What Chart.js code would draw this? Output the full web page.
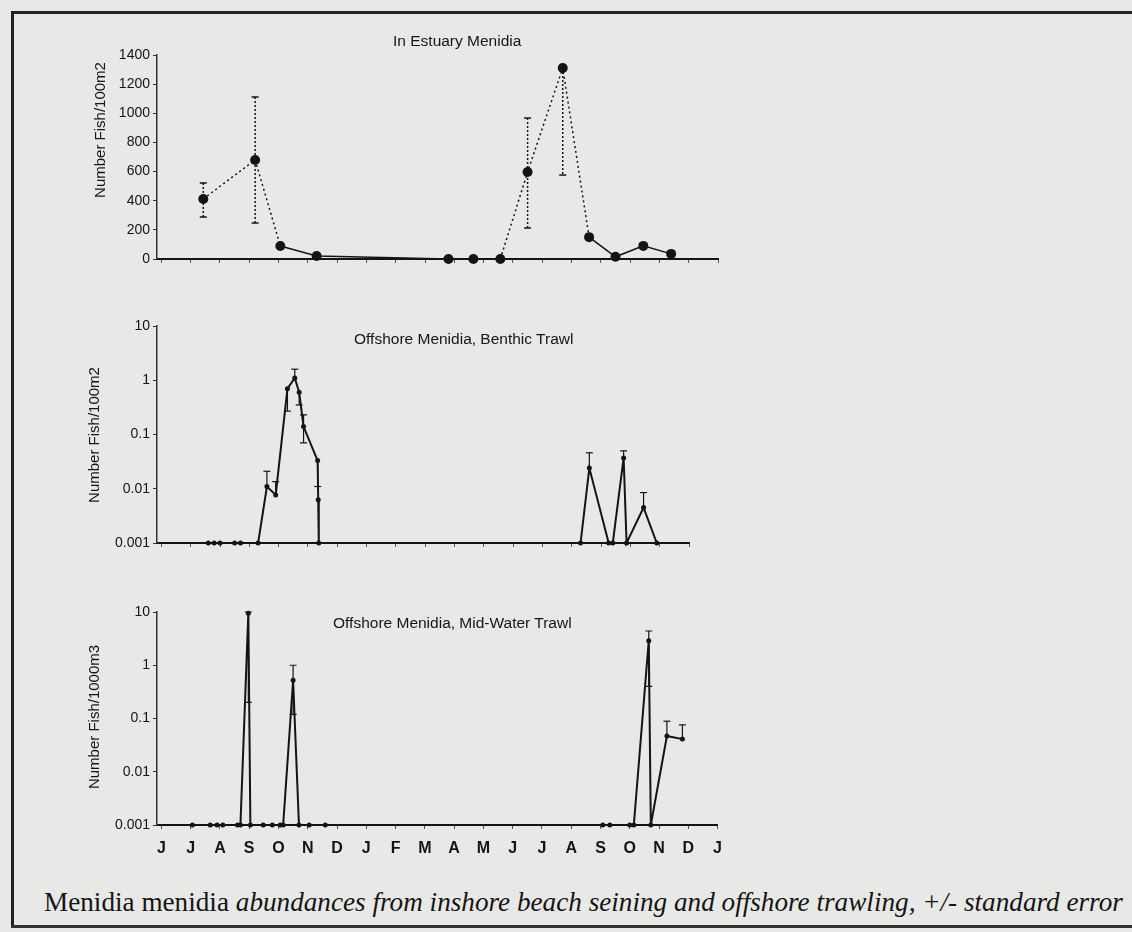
<!DOCTYPE html>
<html>
<head>
<meta charset="utf-8">
<script src="https://cdn.jsdelivr.net/npm/chart.js@4.4.1/dist/chart.umd.min.js"></script>
<style>
  html, body { margin: 0; padding: 0; background: #e8e8e6; }
  #page { position: relative; width: 1132px; height: 932px; overflow: hidden; background: #e8e8e6; font-family: "Liberation Sans", Arial, sans-serif; color: #151515; }
  .frame-top { position: absolute; left: 11px; top: 11px; width: 1121px; height: 3px; background: #222; }
  .frame-left { position: absolute; left: 11px; top: 11px; width: 3px; height: 917px; background: #222; }
  .frame-bottom { position: absolute; left: 11px; top: 925px; width: 1121px; height: 3px; background: #333; }
  canvas { position: absolute; }
  .panel-title { position: absolute; font-size: 15.5px; white-space: nowrap; transform: translateY(-50%); }
  .ytitle { position: absolute; font-size: 15px; white-space: nowrap; transform: translate(-50%, -50%) rotate(-90deg); }
  .caption { position: absolute; left: 44px; top: 902px; transform: translateY(-50%); font-family: "Liberation Serif", serif; font-size: 27.2px; white-space: nowrap; }
</style>
</head>
<body>
<div id="page">
  <div class="frame-top"></div>
  <div class="frame-left"></div>
  <div class="frame-bottom"></div>

  <canvas id="estuary" width="712" height="233" style="left:20px; top:40px;"></canvas>
  <canvas id="benthic" width="683" height="247" style="left:20px; top:310px;"></canvas>
  <canvas id="midwater" width="712" height="261" style="left:20px; top:596px;"></canvas>

  <div class="panel-title" style="left:393px; top:41px;">In Estuary Menidia</div>
  <div class="panel-title" style="left:354px; top:339px;">Offshore Menidia, Benthic Trawl</div>
  <div class="panel-title" style="left:333px; top:623px;">Offshore Menidia, Mid-Water Trawl</div>

  <div class="ytitle" style="left:99px; top:130px;">Number Fish/100m2</div>
  <div class="ytitle" style="left:93px; top:435px;">Number Fish/100m2</div>
  <div class="ytitle" style="left:93px; top:717px;">Number Fish/1000m3</div>

  <div class="caption">Menidia menidia <i>abundances from inshore beach seining and offshore trawling, +/- standard error</i></div>
</div>

<script>
// month letters along the bottom axis (June of year 1 to January of year 3)
const monthLabels = ["J", "J", "A", "S", "O", "N", "D", "J", "F", "M", "A", "M", "J", "J", "A", "S", "O", "N", "D", "J"];

// in estuary beach seine (fish / 100 m2), x = months since first June
const estuaryMonth = [1.43, 3.2, 4.06, 5.3, 9.8, 10.65, 11.57, 12.5, 13.7, 14.6, 15.5, 16.45, 17.4];
const estuaryFish = [412, 680, 89, 21, 0, 0, 0, 597, 1311, 150, 15, 90, 35];
const estuaryLow = [288, 247, null, null, null, null, null, 213, 576, null, null, null, null];
const estuaryHigh = [522, 1112, null, null, null, null, null, 968, null, null, null, null, null];

// offshore benthic trawl (fish / 100 m2), 0.001 = none caught
const benthicMonth = [1.6, 1.8, 2.0, 2.5, 2.7, 3.3, 3.6, 3.9, 4.3, 4.55, 4.7, 4.85, 5.33, 5.35, 5.37,
  14.3, 14.6, 15.26, 15.4, 15.77, 15.87, 16.45, 16.9];
const benthicFish = [0.001, 0.001, 0.001, 0.001, 0.001, 0.001, 0.011, 0.0077, 0.7, 1.1, 0.6, 0.14, 0.033, 0.0063, 0.001,
  0.001, 0.024, 0.001, 0.001, 0.037, 0.001, 0.0045, 0.001];
const benthicLow = [null, null, null, null, null, null, null, null, 0.27, null, 0.35, 0.07, 0.011, null, null,
  null, null, null, null, null, null, null, null];
const benthicHigh = [null, null, null, null, null, null, 0.021, 0.0135, null, 1.6, null, 0.23, null, null, null,
  null, 0.046, null, null, 0.05, null, 0.0085, null];

// offshore mid-water trawl (fish / 1000 m3)
const midMonth = [1.06, 1.67, 1.9, 2.1, 2.6, 2.7, 2.97, 3.04, 3.48, 3.79, 4.06, 4.16, 4.5, 4.7, 5.05, 5.6,
  15.08, 15.32, 16.0, 16.14, 16.65, 16.72, 17.27, 17.8];
const midFish = [0.001, 0.001, 0.001, 0.001, 0.001, 0.001, 9.5, 0.001, 0.001, 0.001, 0.001, 0.001, 0.52, 0.001, 0.001, 0.001,
  0.001, 0.001, 0.001, 0.001, 2.9, 0.001, 0.047, 0.041];
const midLow = [null, null, null, null, null, null, 0.2, null, null, null, null, null, 0.12, null, null, null,
  null, null, null, null, 0.4, null, null, null];
const midHigh = [null, null, null, null, null, null, 10, null, null, null, null, null, 1.0, null, null, null,
  null, null, null, null, 4.4, null, 0.089, 0.076];

const logTicks = [0.001, 0.01, 0.1, 1, 10];
const tickFont = { family: "Liberation Sans, Arial, sans-serif", size: 14 };
const ink = "#141414";

// vertical +/- standard error bars with T caps
const errorBarPlugin = {
  id: "errorBars",
  afterDatasetsDraw(chart) {
    const ds = chart.data.datasets[0];
    if (!ds.errLo) return;
    const { ctx } = chart;
    const x = chart.scales.x;
    const y = chart.scales.y;
    ctx.save();
    ctx.strokeStyle = ink;
    ctx.lineWidth = ds.errWidth;
    ds.data.forEach((p, i) => {
      const lo = ds.errLo[i];
      const hi = ds.errHi[i];
      if (lo == null && hi == null) return;
      const px = x.getPixelForValue(p.x);
      const yTop = y.getPixelForValue(hi != null ? hi : p.y);
      const yBot = y.getPixelForValue(lo != null ? lo : p.y);
      ctx.setLineDash(ds.errDash);
      ctx.beginPath();
      ctx.moveTo(px, yTop);
      ctx.lineTo(px, yBot);
      ctx.stroke();
      ctx.setLineDash([]);
      ctx.beginPath();
      if (hi != null) { ctx.moveTo(px - 3.5, yTop); ctx.lineTo(px + 3.5, yTop); }
      if (lo != null) { ctx.moveTo(px - 3.5, yBot); ctx.lineTo(px + 3.5, yBot); }
      ctx.stroke();
    });
    ctx.restore();
  },
};

function makePanel(id, cfg) {
  const points = cfg.months.map((m, i) => ({ x: m, y: cfg.values[i] }));
  const isLog = cfg.yType === "logarithmic";

  return new Chart(document.getElementById(id), {
    type: "line",
    data: {
      datasets: [
        {
          data: points,
          borderColor: ink,
          backgroundColor: ink,
          borderWidth: cfg.lineWidth,
          pointRadius: cfg.pointRadius,
          pointHoverRadius: cfg.pointRadius,
          pointBorderWidth: 0,
          tension: 0,
          clip: false,
          segment: cfg.dottedSteep
            ? { borderDash: (c) => (Math.abs(c.p1.parsed.y - c.p0.parsed.y) > 150 ? [2, 3] : undefined) }
            : {},
          errLo: cfg.low,
          errHi: cfg.high,
          errDash: cfg.errDash,
          errWidth: cfg.errWidth,
        },
      ],
    },
    options: {
      responsive: false,
      animation: false,
      events: [],
      layout: { padding: { top: cfg.padTop, right: 14, left: 0, bottom: 0 } },
      plugins: { legend: { display: false }, tooltip: { enabled: false } },
      scales: {
        x: {
          type: "linear",
          min: -0.15,
          max: cfg.xMax,
          afterBuildTicks: (s) => {
            s.ticks = monthLabels.map((_, i) => ({ value: i })).filter((t) => t.value <= cfg.xMax);
          },
          afterFit: (s) => { s.height = cfg.xHeight; },
          grid: { display: true, drawOnChartArea: false, drawTicks: true, tickLength: 4, color: "#555", lineWidth: 1 },
          border: { display: true, color: ink, width: 2 },
          ticks: {
            autoSkip: false,
            maxRotation: 0,
            padding: 10,
            color: ink,
            font: { family: "Liberation Sans, Arial, sans-serif", size: 16, weight: "bold" },
            callback: (v) => (cfg.showMonths ? monthLabels[v] : ""),
          },
        },
        y: {
          type: cfg.yType,
          min: cfg.yMin,
          max: cfg.yMax,
          afterBuildTicks: isLog ? (s) => { s.ticks = logTicks.map((v) => ({ value: v })); } : undefined,
          afterFit: (s) => { s.width = 137; },
          grid: { display: true, drawOnChartArea: false, drawTicks: true, tickLength: 4, color: "#333" },
          border: { display: true, color: "#333", width: 1.5, dash: [2, 3] },
          ticks: {
            stepSize: isLog ? undefined : 200,
            padding: 3,
            color: ink,
            font: tickFont,
            callback: (v) => String(v),
          },
        },
      },
    },
    plugins: [errorBarPlugin],
  });
}

makePanel("estuary", {
  months: estuaryMonth, values: estuaryFish, low: estuaryLow, high: estuaryHigh,
  yType: "linear", yMin: 0, yMax: 1400, xMax: 19,
  padTop: 15, xHeight: 14, showMonths: false,
  pointRadius: 5, lineWidth: 1.5, dottedSteep: true, errDash: [2, 2], errWidth: 1.5,
});

makePanel("benthic", {
  months: benthicMonth, values: benthicFish, low: benthicLow, high: benthicHigh,
  yType: "logarithmic", yMin: 0.001, yMax: 10, xMax: 18,
  padTop: 16, xHeight: 14, showMonths: false,
  pointRadius: 2.5, lineWidth: 2, dottedSteep: false, errDash: [], errWidth: 1.2,
});

makePanel("midwater", {
  months: midMonth, values: midFish, low: midLow, high: midHigh,
  yType: "logarithmic", yMin: 0.001, yMax: 10, xMax: 19,
  padTop: 16, xHeight: 32, showMonths: true,
  pointRadius: 2.5, lineWidth: 2, dottedSteep: false, errDash: [], errWidth: 1.2,
});
</script>
</body>
</html>
